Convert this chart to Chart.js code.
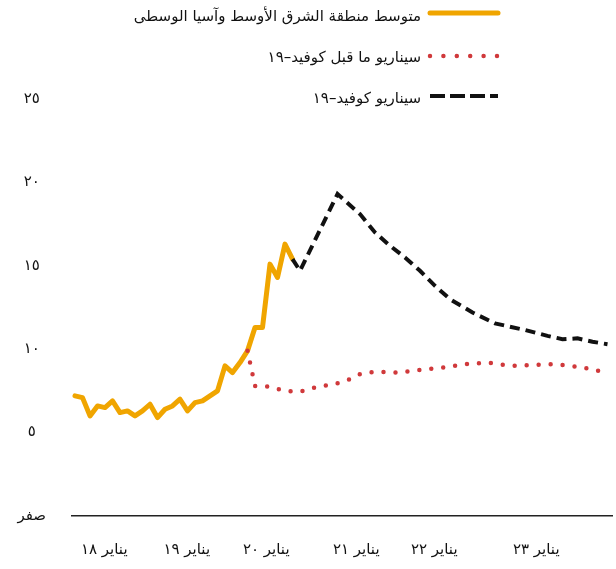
<!DOCTYPE html>
<html lang="ar">
<head>
<meta charset="utf-8">
<script src="https://cdn.jsdelivr.net/npm/chart.js@4.4.1/dist/chart.umd.min.js"></script>
<style>
html,body{margin:0;padding:0;background:#fff;}
#wrap{position:relative;width:616px;height:569px;}
</style>
</head>
<body>
<div id="wrap"><canvas id="c" width="616" height="569"></canvas></div>
<script>
// ---- data (x = month index, 0 = Jan 2018) ----
const avgMonths = [0,1,2,3,4,5,6,7,8,9,10,11,12,13,14,15,16,17,18,19,20,21,22,23,24,25,26,27,28,29];
const avgValues = [7.2,7.1,6.0,6.6,6.5,6.9,6.2,6.3,6.0,6.3,6.7,5.9,6.4,6.6,7.0,6.3,6.8,6.9,7.2,7.5,9.0,8.6,9.2,9.9,11.3,11.3,15.1,14.3,16.3,15.4];

const preCovidMonths = [23,24,26,28,30,32,35,37,38,40,43,46,49,52,55,58,61,64,67,69,71];
const preCovidValues = [9.9,7.8,7.75,7.5,7.45,7.7,7.95,8.25,8.5,8.65,8.6,8.75,8.9,9.1,9.2,9.0,9.05,9.1,8.95,8.8,8.55];

const covidMonths = [29,30,35,36,38,40,42,44,46,48,50,53,56,58,60,63,65,67,69,71];
const covidValues = [15.4,14.7,19.3,18.9,18.1,17.0,16.2,15.5,14.7,13.8,13.0,12.2,11.55,11.35,11.15,10.8,10.6,10.65,10.45,10.3];

const seriesNames = ['متوسط منطقة الشرق الأوسط وآسيا الوسطى','سيناريو ما قبل كوفيد–١٩','سيناريو كوفيد–١٩'];
const xTickLabels = ['يناير ١٨','يناير ١٩','يناير ٢٠','يناير ٢١','يناير ٢٢','يناير ٢٣'];
const xTickPositions = [3.9,14.9,25.5,37.5,47.9,61.5];
const yTickLabels = ['صفر','٥','١٠','١٥','٢٠','٢٥'];

const ORANGE = '#f0a500';
const RED = '#d0393b';
const BLACK = '#111111';
const FONT = '"DejaVu Sans", sans-serif';

const toPts = (xs, ys) => xs.map((x, i) => ({x: x, y: ys[i]}));

const legendPlugin = {
  id: 'customLegend',
  afterDraw(chart) {
    const ctx = chart.ctx;
    const rows = [
      {color: ORANGE, width: 5, dash: [], cap: 'round', ly: 13, ty: 17},
      {color: RED, width: 4.5, dash: [0, 13.4], cap: 'round', ly: 56, ty: 58},
      {color: BLACK, width: 4, dash: [15, 5], cap: 'butt', ly: 96, ty: 99}
    ];
    ctx.save();
    rows.forEach((r, i) => {
      ctx.beginPath();
      ctx.setLineDash(r.dash);
      ctx.lineCap = r.cap;
      ctx.lineWidth = r.width;
      ctx.strokeStyle = r.color;
      ctx.moveTo(430, r.ly);
      ctx.lineTo(498, r.ly);
      ctx.stroke();
      ctx.setLineDash([]);
      ctx.fillStyle = '#111';
      ctx.font = '15px ' + FONT;
      ctx.direction = 'rtl';
      ctx.textAlign = 'right';
      ctx.textBaseline = 'middle';
      ctx.fillText(seriesNames[i], 421, r.ty);
    });
    ctx.restore();
  }
};

new Chart(document.getElementById('c'), {
  type: 'line',
  data: {
    datasets: [
      {label: seriesNames[1], data: toPts(preCovidMonths, preCovidValues), borderColor: RED, borderWidth: 4.5,
       borderDash: [0, 12], borderCapStyle: 'round', pointRadius: 0, tension: 0, order: 0},
      {label: seriesNames[2], data: toPts(covidMonths, covidValues), borderColor: BLACK, borderWidth: 4,
       borderDash: [10, 6], borderCapStyle: 'butt', pointRadius: 0, tension: 0, order: 1},
      {label: seriesNames[0], data: toPts(avgMonths, avgValues), borderColor: ORANGE, borderWidth: 5,
       borderJoinStyle: 'round', borderCapStyle: 'round', pointRadius: 0, tension: 0, order: 2}
    ]
  },
  options: {
    responsive: false,
    devicePixelRatio: 1,
    animation: false,
    layout: {padding: {top: 99, right: 4, bottom: 0, left: 0}},
    plugins: {legend: {display: false}, tooltip: {enabled: false}},
    scales: {
      x: {
        type: 'linear',
        min: -0.4,
        max: 71.6,
        grid: {display: false, drawTicks: false},
        border: {display: true, color: '#222', width: 1.5},
        afterBuildTicks: (scale) => { scale.ticks = xTickPositions.map(v => ({value: v})); },
        afterFit: (scale) => { scale.height = 53; },
        ticks: {
          autoSkip: false, maxRotation: 0, padding: 25,
          color: '#111', font: {family: FONT, size: 15},
          callback: (v, i) => xTickLabels[i]
        }
      },
      y: {
        type: 'linear',
        min: 0, max: 25,
        grid: {display: false, drawTicks: false},
        border: {display: false},
        afterFit: (scale) => { scale.width = 72; },
        ticks: {
          stepSize: 5, padding: 26, crossAlign: 'center',
          color: '#111', font: {family: FONT, size: 15},
          callback: (v, i) => yTickLabels[i]
        }
      }
    }
  },
  plugins: [legendPlugin]
});
</script>
</body>
</html>
